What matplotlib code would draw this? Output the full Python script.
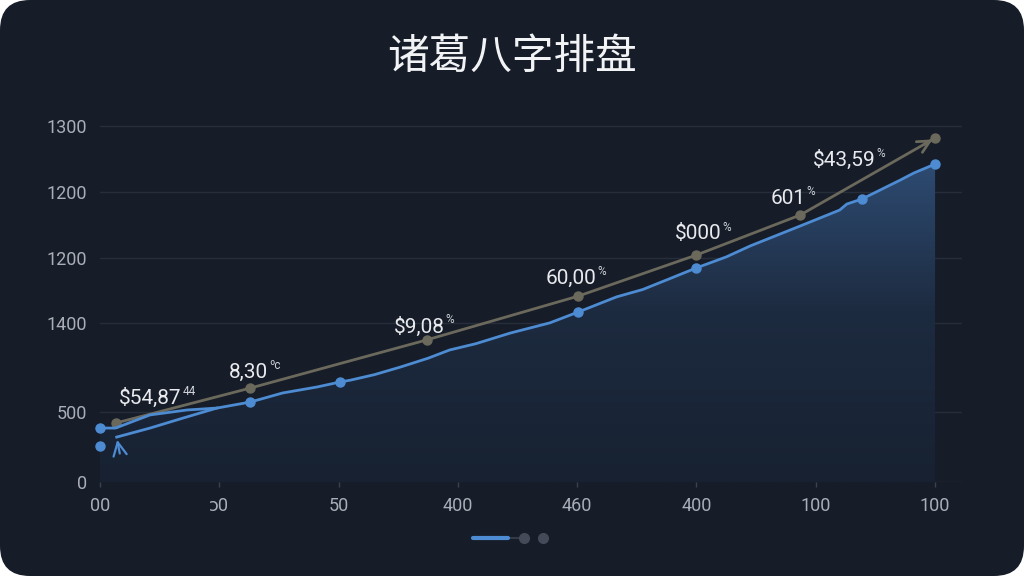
"""Recreation of the dark 诸葛八字排盘 line chart with a gradient area fill."""

import matplotlib

matplotlib.use("Agg")
import matplotlib.pyplot as plt
import numpy as np
from matplotlib.colors import LinearSegmentedColormap
from matplotlib.lines import Line2D
from matplotlib.patches import FancyBboxPatch, Polygon
from matplotlib.transforms import IdentityTransform

TITLE = "诸葛八字排盘"

x_ticks = [0, 1, 2, 3, 4, 5, 6, 7]
x_labels = ["00", "ɔ0", "50", "400", "460", "400", "100", "100"]
y_ticks = [0, 256, 581, 818, 1059, 1300]
y_labels = ["0", "500", "1400", "1200", "1200", "1300"]

# grey (upper) series, straight segments between markers
grey_x = [0.13, 1.26, 2.74, 4.01, 5.00, 5.87, 7.00]
grey_y = [215, 343, 519, 679, 829, 975, 1256]
point_labels = ["$54,87", "8,30", "$9,08", "60,00", "$000", "601", "$43,59"]
point_suffixes = ["44", "ºc", "%", "%", "%", "%", "%"]

# blue (lower) series, read along its slightly jagged path
blue_x = [0.00, 0.13, 0.42, 0.73, 0.98, 1.26, 1.53, 1.82, 2.01, 2.10, 2.30,
          2.52, 2.75, 2.93, 3.15, 3.44, 3.77, 4.01, 4.33, 4.55, 4.75, 5.00,
          5.25, 5.45, 5.87, 6.20, 6.26, 6.39, 6.71, 6.82, 7.00]
blue_y = [197, 197, 245, 263, 270, 292, 325, 347, 365, 372, 392,
          420, 452, 482, 505, 544, 581, 621, 676, 703, 738, 782,
          822, 862, 935, 993, 1015, 1034, 1103, 1128, 1161]
blue_branch_x = [0.14, 0.42, 0.70, 0.98]
blue_branch_y = [164, 197, 234, 270]
blue_marker_x = [0.00, 0.00, 1.26, 2.01, 4.01, 5.00, 6.39, 7.00]
blue_marker_y = [197, 131, 292, 365, 621, 782, 1034, 1161]

BG = "#161c28"
BLUE = "#4d8bd2"
GREY = "#6b695c"
GRID = "#272e3b"
TICK_TEXT = "#a9aeb8"
FONTS = ["Roboto", "Noto Sans CJK SC", "DejaVu Sans"]

# label offsets from each grey marker, in pixels (dx, dy)
label_offsets = [(35, 25), (-2, 16), (-8, 13), (-7, 18), (2, 21), (-12, 17), (-91, -22)]

plt.rcParams["font.family"] = FONTS

fig = plt.figure(figsize=(10.24, 5.76), dpi=100, facecolor="white")
card = FancyBboxPatch(
    (0, 0), 1024, 576,
    boxstyle="round,pad=0,rounding_size=30",
    transform=IdentityTransform(), facecolor=BG, edgecolor="none", zorder=-1,
)
fig.patches.append(card)

ax = fig.add_axes([100 / 1024, 94 / 576, 862 / 1024, 362 / 576])
ax.set_facecolor("none")
x_max = 862 / 119.3
y_max = 362 * 1300 / 356

# gradient area under the blue line
poly = np.vstack([[blue_x[0], 0], np.column_stack([blue_x, blue_y]), [blue_x[-1], 0]])
clip = Polygon(poly, closed=True, facecolor="none", edgecolor="none")
ax.add_patch(clip)
cmap = LinearSegmentedColormap.from_list("area", ["#172131", "#1d2b40", "#30507a"])
gradient = np.linspace(0, 1, 256).reshape(-1, 1)
img = ax.imshow(gradient, extent=(0, x_max, 0, 1250), origin="lower",
                aspect="auto", cmap=cmap, zorder=1)
img.set_clip_path(clip)

ax.plot(grey_x, grey_y, color=GREY, lw=2, marker="o", ms=6.5, zorder=3)
ax.annotate("", xy=(grey_x[-1], grey_y[-1]),
            xytext=(grey_x[-2] + 0.9 * (grey_x[-1] - grey_x[-2]),
                    grey_y[-2] + 0.9 * (grey_y[-1] - grey_y[-2])),
            arrowprops=dict(arrowstyle="->", color=GREY, lw=2, mutation_scale=22),
            zorder=3)

ax.plot(blue_x, blue_y, color=BLUE, lw=2, zorder=4)
ax.plot(blue_branch_x, blue_branch_y, color=BLUE, lw=2, zorder=4)
ax.plot(blue_marker_x, blue_marker_y, ls="none", marker="o", ms=6.5,
        color=BLUE, zorder=5, clip_on=False)
ax.annotate("", xy=(blue_branch_x[0], blue_branch_y[0]),
            xytext=(blue_branch_x[0] + 0.03, blue_branch_y[0] - 70),
            arrowprops=dict(arrowstyle="->", color=BLUE, lw=1.6, mutation_scale=24),
            zorder=5)

for gx, gy, text, suffix, (dx, dy) in zip(grey_x, grey_y, point_labels,
                                          point_suffixes, label_offsets):
    main = ax.annotate(text, xy=(gx, gy), xytext=(dx, dy), textcoords="offset pixels",
                       ha="center", va="center", fontsize=15, color="#e8eaee", zorder=6)
    ax.annotate(suffix, xy=(1.0, 0.85), xycoords=main, xytext=(1, 0),
                textcoords="offset pixels", ha="left", va="center",
                fontsize=8.5, color="#d0d3d9", zorder=6)

ax.set_xlim(0, x_max)
ax.set_ylim(0, y_max)
ax.set_xticks(x_ticks, x_labels)
ax.set_yticks(y_ticks, y_labels)
ax.tick_params(axis="x", length=3.6, width=1, color="#3a4150", pad=7,
               labelsize=13, labelcolor=TICK_TEXT)
ax.tick_params(axis="y", length=0, pad=9, labelsize=13, labelcolor=TICK_TEXT)
ax.yaxis.grid(True, color=GRID, lw=1, zorder=0)
ax.set_axisbelow(True)
for spine in ax.spines.values():
    spine.set_visible(False)

fig.text(0.5, 1 - 57 / 576, TITLE, ha="center", va="center", fontsize=30,
         fontweight="medium", color="#f2f3f5",
         family=["Noto Sans CJK SC", "DejaVu Sans"])

# pager indicator under the chart
pager_y = 1 - 538 / 576
fig.add_artist(Line2D([508 / 1024, 521 / 1024], [pager_y, pager_y],
                      transform=fig.transFigure, color="#343a47", lw=1.5))
fig.add_artist(Line2D([473 / 1024, 508 / 1024], [pager_y, pager_y],
                      transform=fig.transFigure, color=BLUE, lw=3,
                      solid_capstyle="round"))
fig.add_artist(Line2D([524 / 1024, 543 / 1024], [pager_y, pager_y],
                      transform=fig.transFigure, ls="none", marker="o", ms=7,
                      color="#444a57"))

fig.savefig("out.png", dpi=100, facecolor=fig.get_facecolor())
